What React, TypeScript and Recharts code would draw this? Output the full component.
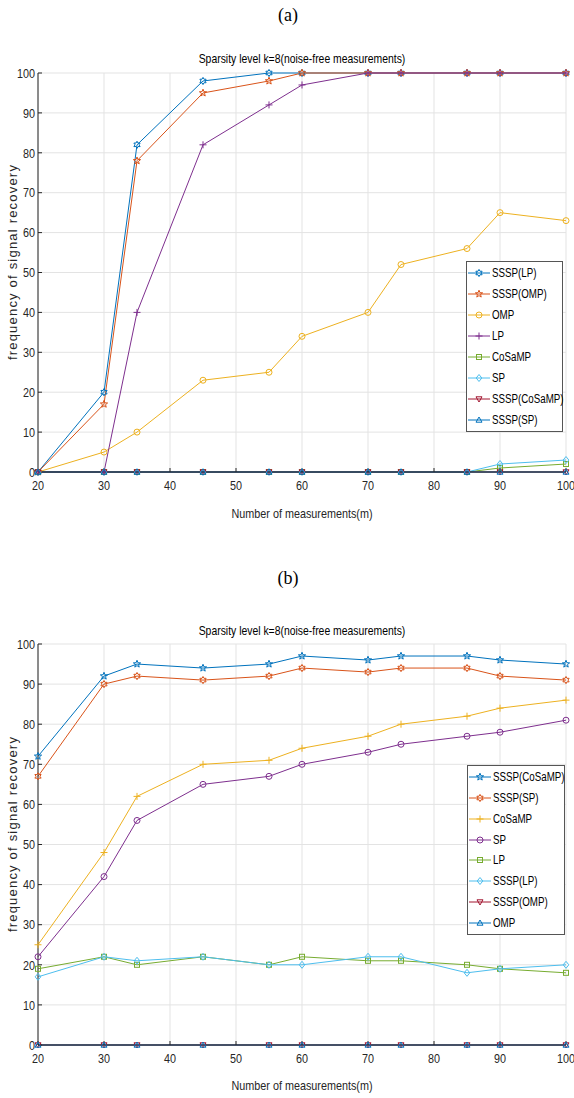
import React from "react";
import { LineChart, Line, XAxis, YAxis, CartesianGrid } from "recharts";

// x positions shared by both panels
const measurements = [20, 30, 35, 45, 55, 60, 70, 75, 85, 90, 100];
const xTicks = [20, 30, 40, 50, 60, 70, 80, 90, 100];
const yTicks = [0, 10, 20, 30, 40, 50, 60, 70, 80, 90, 100];

// panel (a)
const aSsspLp = [0, 20, 82, 98, 100, 100, 100, 100, 100, 100, 100];
const aSsspOmp = [0, 17, 78, 95, 98, 100, 100, 100, 100, 100, 100];
const aOmp = [0, 5, 10, 23, 25, 34, 40, 52, 56, 65, 63];
const aLp = [0, 0, 40, 82, 92, 97, 100, 100, 100, 100, 100];
const aCosamp = [0, 0, 0, 0, 0, 0, 0, 0, 0, 1, 2];
const aSp = [0, 0, 0, 0, 0, 0, 0, 0, 0, 2, 3];
const aSsspCosamp = [0, 0, 0, 0, 0, 0, 0, 0, 0, 0, 0];
const aSsspSp = [0, 0, 0, 0, 0, 0, 0, 0, 0, 0, 0];

// panel (b)
const bSsspCosamp = [72, 92, 95, 94, 95, 97, 96, 97, 97, 96, 95];
const bSsspSp = [67, 90, 92, 91, 92, 94, 93, 94, 94, 92, 91];
const bCosamp = [25, 48, 62, 70, 71, 74, 77, 80, 82, 84, 86];
const bSp = [22, 42, 56, 65, 67, 70, 73, 75, 77, 78, 81];
const bLp = [19, 22, 20, 22, 20, 22, 21, 21, 20, 19, 18];
const bSsspLp = [17, 22, 21, 22, 20, 20, 22, 22, 18, 19, 20];
const bSsspOmp = [0, 0, 0, 0, 0, 0, 0, 0, 0, 0, 0];
const bOmp = [0, 0, 0, 0, 0, 0, 0, 0, 0, 0, 0];

type Shape = "circle" | "star" | "hexagram" | "plus" | "square" | "diamond" | "tdown" | "tup";
interface Series {
  name: string;
  values: number[];
  color: string;
  shape: Shape;
}

const C = {
  blue: "#0072BD",
  orange: "#D95319",
  yellow: "#EDB120",
  purple: "#7E2F8E",
  green: "#77AC30",
  cyan: "#4DBEEE",
  red: "#A2142F",
};

const seriesA: Series[] = [
  { name: "SSSP(LP)", values: aSsspLp, color: C.blue, shape: "hexagram" },
  { name: "SSSP(OMP)", values: aSsspOmp, color: C.orange, shape: "star" },
  { name: "OMP", values: aOmp, color: C.yellow, shape: "circle" },
  { name: "LP", values: aLp, color: C.purple, shape: "plus" },
  { name: "CoSaMP", values: aCosamp, color: C.green, shape: "square" },
  { name: "SP", values: aSp, color: C.cyan, shape: "diamond" },
  { name: "SSSP(CoSaMP)", values: aSsspCosamp, color: C.red, shape: "tdown" },
  { name: "SSSP(SP)", values: aSsspSp, color: C.blue, shape: "tup" },
];

const seriesB: Series[] = [
  { name: "SSSP(CoSaMP)", values: bSsspCosamp, color: C.blue, shape: "star" },
  { name: "SSSP(SP)", values: bSsspSp, color: C.orange, shape: "hexagram" },
  { name: "CoSaMP", values: bCosamp, color: C.yellow, shape: "plus" },
  { name: "SP", values: bSp, color: C.purple, shape: "circle" },
  { name: "LP", values: bLp, color: C.green, shape: "square" },
  { name: "SSSP(LP)", values: bSsspLp, color: C.cyan, shape: "diamond" },
  { name: "SSSP(OMP)", values: bSsspOmp, color: C.red, shape: "tdown" },
  { name: "OMP", values: bOmp, color: C.blue, shape: "tup" },
];

const SANS = '"Liberation Sans", Arial, sans-serif';
const INK = "#262626";
const SQUEEZE = 0.8; // the original uses a condensed Helvetica

const starPoints = (cx: number, cy: number, n: number, ro: number, ri: number) => {
  const pts: string[] = [];
  for (let i = 0; i < n * 2; i++) {
    const r = i % 2 === 0 ? ro : ri;
    const a = -Math.PI / 2 + (i * Math.PI) / n;
    pts.push(`${cx + r * Math.cos(a)},${cy + r * Math.sin(a)}`);
  }
  return pts.join(" ");
};

const Marker = ({ cx, cy, shape, color }: { cx: number; cy: number; shape: Shape; color: string }) => {
  const common = { fill: "none", stroke: color, strokeWidth: 1 };
  switch (shape) {
    case "circle":
      return <circle cx={cx} cy={cy} r={3} {...common} />;
    case "square":
      return <rect x={cx - 2.5} y={cy - 2.5} width={5} height={5} {...common} />;
    case "diamond":
      return <polygon points={`${cx},${cy - 3.5} ${cx + 2.8},${cy} ${cx},${cy + 3.5} ${cx - 2.8},${cy}`} {...common} />;
    case "plus":
      return <path d={`M${cx - 3.5},${cy}h7M${cx},${cy - 3.5}v7`} {...common} />;
    case "tdown":
      return <polygon points={`${cx - 3},${cy - 2.2} ${cx + 3},${cy - 2.2} ${cx},${cy + 3}`} {...common} />;
    case "tup":
      return <polygon points={`${cx - 3},${cy + 2.2} ${cx + 3},${cy + 2.2} ${cx},${cy - 3}`} {...common} />;
    case "star":
      return <polygon points={starPoints(cx, cy, 5, 3.8, 1.6)} {...common} />;
    case "hexagram":
      return <polygon points={starPoints(cx, cy, 6, 3.6, 2)} {...common} />;
  }
  return null;
};

const dotFor = (s: Series) => (p: any) => {
  if (p.cx == null || p.cy == null) return <g key={p.index} />;
  return <Marker key={p.index} cx={p.cx} cy={p.cy} shape={s.shape} color={s.color} />;
};

const XTick = (p: any) => (
  <text
    transform={`translate(${p.x},${p.y}) scale(${SQUEEZE},1)`}
    textAnchor="middle"
    dy="0.71em"
    fill={INK}
    fontSize={13.5}
    fontFamily={SANS}
  >
    {p.payload.value}
  </text>
);

const YTick = (p: any) => (
  <text
    transform={`translate(${p.x},${p.y}) scale(${SQUEEZE},1)`}
    textAnchor="end"
    dy="0.355em"
    fill={INK}
    fontSize={13.5}
    fontFamily={SANS}
  >
    {p.payload.value}
  </text>
);

const Centered: React.FC<{ x: number; y: number; style?: React.CSSProperties; children: React.ReactNode }> = ({
  x,
  y,
  style,
  children,
}) => (
  <div
    style={{
      position: "absolute",
      left: x,
      top: y,
      transform: `translate(-50%, -50%) scaleX(${SQUEEZE})`,
      whiteSpace: "nowrap",
      ...style,
    }}
  >
    {children}
  </div>
);

const LegendBox: React.FC<{ series: Series[]; left: number; top: number; width: number; height: number }> = ({
  series,
  left,
  top,
  width,
  height,
}) => (
  <div
    style={{
      position: "absolute",
      left,
      top,
      width,
      height,
      boxSizing: "border-box",
      border: "1px solid #555",
      background: "#fff",
      padding: "1px 0 1px 1px",
      display: "flex",
      flexDirection: "column",
      justifyContent: "space-around",
    }}
  >
    {series.map((s) => (
      <div key={s.name} style={{ display: "flex", alignItems: "center", height: 20 }}>
        <svg width={22} height={12} style={{ marginRight: 2, flexShrink: 0 }}>
          <line x1={0} y1={6} x2={22} y2={6} stroke={s.color} strokeWidth={1} />
          <Marker cx={11} cy={6} shape={s.shape} color={s.color} />
        </svg>
        <span
          style={{
            display: "inline-block",
            fontFamily: SANS,
            fontSize: 12.5,
            color: "#000",
            whiteSpace: "nowrap",
            transform: "scaleX(0.78)",
            transformOrigin: "left center",
          }}
        >
          {s.name}
        </span>
      </div>
    ))}
  </div>
);

const Panel: React.FC<{ series: Series[]; top: number; plotTop: number; plotBottom: number }> = ({
  series,
  top,
  plotTop,
  plotBottom,
}) => {
  const height = 540;
  const data = measurements.map((m, i) => {
    const row: Record<string, number> = { m };
    series.forEach((s, k) => {
      row["s" + k] = s.values[i];
    });
    return row;
  });
  return (
    <div style={{ position: "absolute", left: 0, top }}>
      <LineChart
        width={574}
        height={height}
        data={data}
        margin={{ top: plotTop, right: 8, left: 8, bottom: height - plotBottom - 30 }}
      >
        <CartesianGrid stroke="#e3e3e3" strokeWidth={1} />
        <XAxis
          dataKey="m"
          type="number"
          domain={[20, 100]}
          ticks={xTicks}
          height={30}
          tickSize={-4}
          tickMargin={12}
          axisLine={{ stroke: INK }}
          tickLine={{ stroke: INK }}
          tick={XTick}
          interval={0}
        />
        <YAxis
          type="number"
          domain={[0, 100]}
          ticks={yTicks}
          width={30}
          tickSize={-4}
          tickMargin={7}
          axisLine={{ stroke: INK }}
          tickLine={{ stroke: INK }}
          tick={YTick}
          interval={0}
        />
        {series.map((s, k) => (
          <Line
            key={s.name}
            type="linear"
            dataKey={"s" + k}
            stroke={s.color}
            strokeWidth={1}
            dot={dotFor(s)}
            activeDot={false}
            isAnimationActive={false}
          />
        ))}
      </LineChart>
    </div>
  );
};

const App: React.FC = () => {
  return (
    <div style={{ position: "absolute", left: 0, top: 0, width: 574, height: 1098, background: "#fff" }}>
      <Centered x={288} y={15} style={styles.caption}>
        (a)
      </Centered>
      <Centered x={302} y={58} style={styles.title}>
        Sparsity level k=8(noise-free measurements)
      </Centered>
      <Panel series={seriesA} top={0} plotTop={73} plotBottom={472} />
      <Centered x={302} y={513} style={styles.xLabel}>
        Number of measurements(m)
      </Centered>
      <Centered x={12} y={262} style={styles.yLabel}>
        frequency of signal recovery
      </Centered>
      <LegendBox series={seriesA} left={466} top={261} width={97} height={171} />

      <Centered x={288} y={578} style={styles.caption}>
        (b)
      </Centered>
      <Centered x={302} y={630} style={styles.title}>
        Sparsity level k=8(noise-free measurements)
      </Centered>
      <Panel series={seriesB} top={572} plotTop={72} plotBottom={473} />
      <Centered x={302} y={1085} style={styles.xLabel}>
        Number of measurements(m)
      </Centered>
      <Centered x={12} y={834} style={styles.yLabel}>
        frequency of signal recovery
      </Centered>
      <LegendBox series={seriesB} left={467} top={765} width={98} height={170} />
    </div>
  );
};

const styles: { [key: string]: React.CSSProperties } = {
  caption: {
    fontFamily: '"Liberation Serif", "Times New Roman", serif',
    fontSize: 18,
    transform: "translate(-50%, -50%)",
  },
  title: { fontFamily: SANS, fontSize: 13, color: "#000" },
  xLabel: { fontFamily: SANS, fontSize: 13.5, color: INK },
  yLabel: {
    fontFamily: SANS,
    fontSize: 13,
    letterSpacing: 1.2,
    color: INK,
    transform: "translate(-50%, -50%) rotate(-90deg)",
  },
};

export default App;
